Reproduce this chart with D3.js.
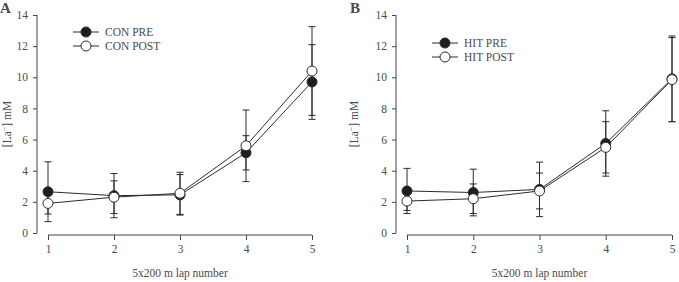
<!DOCTYPE html>
<html>
<head>
<meta charset="utf-8">
<script src="https://cdn.jsdelivr.net/npm/d3@7"></script>
<style>
  body { margin: 0; background: #fff; }
  svg text { font-family: "Liberation Serif", "DejaVu Serif", serif; fill: #4a4a4a; }
</style>
</head>
<body>
<script>
(function() {

    const width = 679;
    const height = 282;

    // lap numbers and y tick values
    const laps = [1, 2, 3, 4, 5];
    const yTicks = [0, 2, 4, 6, 8, 10, 12, 14];

    // panel A - control group (mean, SD)
    const conPre = [2.65, 2.4, 2.45, 5.15, 9.7];
    const conPreSd = [1.92, 1.42, 1.3, 1.1, 2.4];
    const conPost = [1.9, 2.3, 2.55, 5.6, 10.4];
    const conPostSd = [0.68, 1.05, 1.35, 2.3, 2.85];

    // panel B - HIT group (mean, SD)
    const hitPre = [2.7, 2.6, 2.8, 5.75, 9.9];
    const hitPreSd = [1.45, 1.5, 1.75, 2.1, 2.75];
    const hitPost = [2.05, 2.2, 2.7, 5.5, 9.85];
    const hitPostSd = [0.6, 0.95, 1.15, 1.65, 2.7];

    const lineColor = "#2b2b2b";

    let svg = d3.select("body")
        .append("svg")
        .attr("width", width)
        .attr("height", height);

    function drawPanel(p) {
        let g = svg.append("g");

        let x = d3.scaleLinear().domain([1, 5]).range([p.x0, p.x1]);
        let y = d3.scaleLinear().domain([0, 14]).range([233, 15]);

        // y axis
        let yAxis = g.append("g")
            .attr("transform", "translate(" + p.axisX + ",0)")
            .call(d3.axisLeft(y).tickValues(yTicks).tickSize(4).tickPadding(5));
        yAxis.select(".domain").attr("stroke", "#444").attr("d", "M0," + y(14) + "V" + y(0));
        yAxis.selectAll(".tick line").attr("stroke", "#444");
        yAxis.selectAll("text").attr("font-size", 11.5).attr("fill", "#555");

        // x axis
        let xAxis = g.append("g")
            .attr("transform", "translate(0,235)")
            .call(d3.axisBottom(x).tickValues(laps).tickFormat(d3.format("d")).tickSize(5).tickPadding(5));
        xAxis.select(".domain").attr("stroke", "#444").attr("d", "M" + x(1) + ",0H" + x(5));
        xAxis.selectAll(".tick line").attr("stroke", "#444");
        xAxis.selectAll("text").attr("font-size", 11.5).attr("fill", "#555");

        // axis titles
        g.append("text")
            .attr("x", (p.x0 + p.x1) / 2)
            .attr("y", 277)
            .attr("text-anchor", "middle")
            .attr("font-size", 11.5)
            .text("5x200 m lap number");

        let yl = g.append("text")
            .attr("transform", "translate(" + p.labelX + "," + y(7) + ") rotate(-90)")
            .attr("text-anchor", "middle")
            .attr("font-size", 11.5);
        yl.append("tspan").text("[La");
        yl.append("tspan").attr("dy", -4).attr("font-size", 8).text("\u2212");
        yl.append("tspan").attr("dy", 4).text("] mM");

        // panel letter
        g.append("text")
            .attr("x", p.letterX)
            .attr("y", 13)
            .attr("font-size", 15)
            .attr("font-weight", "bold")
            .attr("fill", "#222")
            .text(p.letter);

        let series = [
            { mean: p.pre, sd: p.preSd, fill: "#1e1e1e" },
            { mean: p.post, sd: p.postSd, fill: "#fff" }
        ];

        // error bars
        series.forEach(function(s) {
            let eb = g.append("g").selectAll("g")
                .data(laps)
                .enter()
                .append("g")
                .attr("stroke", lineColor)
                .attr("stroke-width", 1);
            eb.append("line")
                .attr("x1", d => x(d)).attr("x2", d => x(d))
                .attr("y1", (d, i) => y(s.mean[i] + s.sd[i]))
                .attr("y2", (d, i) => y(s.mean[i] - s.sd[i]));
            eb.append("line")
                .attr("x1", d => x(d) - 3.5).attr("x2", d => x(d) + 3.5)
                .attr("y1", (d, i) => y(s.mean[i] + s.sd[i]))
                .attr("y2", (d, i) => y(s.mean[i] + s.sd[i]));
            eb.append("line")
                .attr("x1", d => x(d) - 3.5).attr("x2", d => x(d) + 3.5)
                .attr("y1", (d, i) => y(s.mean[i] - s.sd[i]))
                .attr("y2", (d, i) => y(s.mean[i] - s.sd[i]));
        });

        // lines
        let line = d3.line()
            .x((d, i) => x(laps[i]))
            .y(d => y(d));
        series.forEach(function(s) {
            g.append("path")
                .datum(s.mean)
                .attr("d", line)
                .attr("fill", "none")
                .attr("stroke", lineColor)
                .attr("stroke-width", 1);
        });

        // markers
        series.forEach(function(s) {
            g.append("g").selectAll("circle")
                .data(s.mean)
                .enter()
                .append("circle")
                .attr("cx", (d, i) => x(laps[i]))
                .attr("cy", d => y(d))
                .attr("r", 5)
                .attr("fill", s.fill)
                .attr("stroke", lineColor)
                .attr("stroke-width", 1);
        });

        // legend
        let legend = g.append("g")
            .selectAll("g")
            .data(series)
            .enter()
            .append("g")
            .attr("transform", (d, i) => "translate(" + p.legX + "," + (p.legY + i * 14) + ")");
        legend.append("line")
            .attr("x1", -13).attr("x2", 13)
            .attr("stroke", lineColor);
        legend.append("circle")
            .attr("r", 5)
            .attr("fill", d => d.fill)
            .attr("stroke", lineColor);
        legend.append("text")
            .data(p.names)
            .attr("x", 19)
            .attr("dy", "0.35em")
            .attr("font-size", 11.5)
            .text(d => d);
    }

    drawPanel({
        letter: "A", letterX: 0,
        x0: 48, x1: 312, axisX: 37, labelX: 11,
        pre: conPre, preSd: conPreSd, post: conPost, postSd: conPostSd,
        names: ["CON PRE", "CON POST"], legX: 86, legY: 32
    });

    drawPanel({
        letter: "B", letterX: 350,
        x0: 407, x1: 672, axisX: 396, labelX: 358,
        pre: hitPre, preSd: hitPreSd, post: hitPost, postSd: hitPostSd,
        names: ["HIT PRE", "HIT POST"], legX: 445, legY: 43
    });

})();
</script>
</body>
</html>
